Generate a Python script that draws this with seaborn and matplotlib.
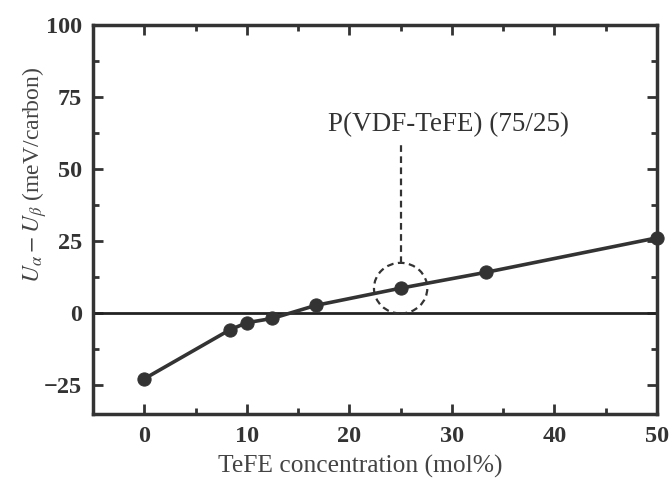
import matplotlib
matplotlib.use("Agg")
import matplotlib.pyplot as plt
from matplotlib.patches import Ellipse
from matplotlib.ticker import MultipleLocator
import seaborn as sns
import pandas as pd

# TeFE content (mol%) and energy difference U_alpha - U_beta (meV/carbon)
tefe_mol = [0, 8.33, 10, 12.5, 16.7, 25, 33.3, 50]
energy_diff = [-23, -6, -3.5, -2, 2.5, 8.5, 14, 26]
x_ticks = [0, 10, 20, 30, 40, 50]
y_ticks = [-25, 0, 25, 50, 75, 100]
highlight_x, highlight_y = 25, 8.5

df = pd.DataFrame({"tefe": tefe_mol, "du": energy_diff})

sns.set_theme(style="ticks")
plt.rcParams["font.family"] = ["Liberation Serif", "DejaVu Serif"]
plt.rcParams["mathtext.fontset"] = "stix"

fig = plt.figure(figsize=(6.7, 4.79), dpi=100)
ax = fig.add_axes([0.1388, 0.1347, 0.8418, 0.8132])

ax.axhline(0, color="#222222", lw=2.0, zorder=1)
sns.lineplot(data=df, x="tefe", y="du", ax=ax, color="#333333", lw=2.6,
             marker="o", markersize=9.5, markeredgecolor="#333333", zorder=3,
             clip_on=False)

# dashed circle and leader to the 75/25 copolymer
ax.add_patch(Ellipse((highlight_x, highlight_y), 5.2, 17.6, fill=False,
                     ls=(0, (3, 2)), lw=1.6, color="#333333", zorder=4))
ax.plot([highlight_x, highlight_x], [highlight_y + 8.8, 59.5], color="#333333",
        lw=1.6, ls=(0, (3, 2)), zorder=4)
ax.text(29.7, 65.3, "P(VDF-TeFE) (75/25)", ha="center", va="center",
        fontsize=19.5, color="#333333")

ax.set_xlim(-5, 50)
ax.set_ylim(-35.4, 97.8)
ax.set_xticks(x_ticks)
ax.set_yticks(y_ticks)
ax.xaxis.set_minor_locator(MultipleLocator(5))
ax.yaxis.set_minor_locator(MultipleLocator(12.5))
ax.tick_params(which="both", direction="in", top=True, right=True,
               color="#333333", width=2)
ax.tick_params(which="major", length=7, labelsize=17.5, labelcolor="#333333",
               pad=8)
ax.tick_params(which="minor", length=4)
for lab in ax.get_xticklabels() + ax.get_yticklabels():
    lab.set_fontweight("bold")
for s in ax.spines.values():
    s.set_linewidth(2.5)
    s.set_color("#333333")

ax.set_xlabel("TeFE concentration (mol%)", fontsize=18.4, color="#444444")
ax.set_ylabel(r"$U_{\alpha}-U_{\beta}$ (meV/carbon)", fontsize=17,
              color="#444444")
ax.xaxis.set_label_coords(0.473, -0.104)
ax.yaxis.label.set_va("center")
ax.yaxis.set_label_coords(-0.104, 0.615)

fig.savefig("out.png", dpi=100)
